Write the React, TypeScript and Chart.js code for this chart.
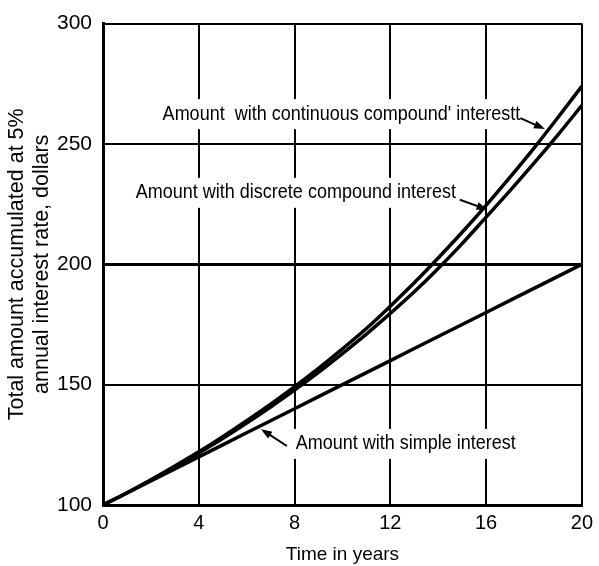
import { useEffect, useRef } from "react";
import { Chart, registerables } from "chart.js";

Chart.register(...registerables);

// ---- data ----
const years = [0, 1, 2, 3, 4, 5, 6, 7, 8, 9, 10, 11, 12, 13, 14, 15, 16, 17, 18, 19, 20];
const simpleInterest = [100, 105, 110, 115, 120, 125, 130, 135, 140, 145, 150, 155, 160, 165, 170, 175, 180, 185, 190, 195, 200];
const discreteCompound = [100, 105, 110.3, 115.8, 121.6, 127.6, 134, 140.7, 147.7, 155.1, 162.9, 171, 179.6, 188.6, 198.3, 208.6, 219.6, 230.6, 242, 253.8, 266];
const continuousCompound = [100, 105.1, 110.5, 116.2, 122.1, 128.4, 135, 141.9, 149.2, 156.8, 164.9, 173.3, 182.6, 192.3, 202.6, 213.3, 224.5, 236.2, 248.3, 261, 274];
const xTickValues = [0, 4, 8, 12, 16, 20];
const yTickValues = [100, 150, 200, 250, 300];

const xTitle = "Time in years";
const yTitleLines = ["Total amount accumulated at 5%", "annual interest rate, dollars"];

// annotation texts with anchors in data units (text left / middle, arrow tail -> head)
const labelTexts = [
  "Amount  with continuous compound' interestt",
  "Amount with discrete compound interest",
  "Amount with simple interest",
];
const labelAnchors = [
  { x: 2.49, y: 262.4, ax0: 17.43, ay0: 260.7, ax1: 18.46, ay1: 256.2 },
  { x: 1.37, y: 229.7, ax0: 14.9, ay0: 226.8, ax1: 16.06, ay1: 222.7 },
  { x: 8.05, y: 125.4, ax0: 7.68, ay0: 124.5, ax1: 6.6, ay1: 131.5 },
];

const LABEL_FONT = "20px 'Liberation Sans', Arial, sans-serif";
const LABEL_SCALE_X = 0.9;
const TICK_FONT_FAMILY = "'Liberation Sans', Arial, sans-serif";

const annotationPlugin = {
  id: "textAnnotations",
  beforeDatasetsDraw(chart: any) {
    const { ctx, scales } = chart;
    const xs = scales.x;
    const ys = scales.y;
    ctx.save();
    ctx.font = LABEL_FONT;
    labelTexts.forEach((t, i) => {
      const a = labelAnchors[i];
      const px = xs.getPixelForValue(a.x);
      const py = ys.getPixelForValue(a.y);
      const w = ctx.measureText(t).width * LABEL_SCALE_X;
      ctx.fillStyle = "#fff";
      ctx.fillRect(px - 4, py - 15, w + 8, 30);
    });
    ctx.restore();
  },
  afterDatasetsDraw(chart: any) {
    const { ctx, scales } = chart;
    const xs = scales.x;
    const ys = scales.y;
    ctx.save();
    ctx.fillStyle = "#000";
    ctx.strokeStyle = "#000";
    labelTexts.forEach((t, i) => {
      const a = labelAnchors[i];
      const px = xs.getPixelForValue(a.x);
      const py = ys.getPixelForValue(a.y);
      ctx.save();
      ctx.font = LABEL_FONT;
      ctx.textBaseline = "middle";
      ctx.textAlign = "left";
      ctx.translate(px, py);
      ctx.scale(LABEL_SCALE_X, 1);
      ctx.fillText(t, 0, 0);
      ctx.restore();
      const x0 = xs.getPixelForValue(a.ax0);
      const y0 = ys.getPixelForValue(a.ay0);
      const x1 = xs.getPixelForValue(a.ax1);
      const y1 = ys.getPixelForValue(a.ay1);
      const ang = Math.atan2(y1 - y0, x1 - x0);
      ctx.lineWidth = 2;
      ctx.beginPath();
      ctx.moveTo(x0, y0);
      ctx.lineTo(x1 - 6 * Math.cos(ang), y1 - 6 * Math.sin(ang));
      ctx.stroke();
      const hl = 11;
      const hw = 4;
      ctx.beginPath();
      ctx.moveTo(x1, y1);
      ctx.lineTo(x1 - hl * Math.cos(ang) + hw * Math.sin(ang), y1 - hl * Math.sin(ang) - hw * Math.cos(ang));
      ctx.lineTo(x1 - hl * Math.cos(ang) - hw * Math.sin(ang), y1 - hl * Math.sin(ang) + hw * Math.cos(ang));
      ctx.closePath();
      ctx.fill();
    });
    ctx.restore();
  },
};

export default function App() {
  const canvasRef = useRef<HTMLCanvasElement | null>(null);

  useEffect(() => {
    document.body.style.margin = "0";
    const canvas = canvasRef.current;
    if (!canvas) return;
    const mk = (vals: number[]) => years.map((x, i) => ({ x, y: vals[i] }));
    const lineStyle = {
      borderColor: "#000",
      borderWidth: 3.5,
      pointRadius: 0,
      cubicInterpolationMode: "monotone" as const,
      fill: false,
    };
    const chart = new Chart(canvas, {
      type: "line",
      data: {
        datasets: [
          { label: "Continuous compound", data: mk(continuousCompound), ...lineStyle },
          { label: "Discrete compound", data: mk(discreteCompound), ...lineStyle },
          { label: "Simple interest", data: mk(simpleInterest), ...lineStyle, cubicInterpolationMode: "default" as const, tension: 0 },
        ],
      },
      options: {
        animation: false,
        responsive: false,
        maintainAspectRatio: false,
        layout: { padding: { left: 0, right: 14, top: 16, bottom: 0 } },
        plugins: { legend: { display: false }, tooltip: { enabled: false } },
        scales: {
          x: {
            type: "linear",
            min: 0,
            max: 20,
            afterBuildTicks: (s: any) => {
              s.ticks = xTickValues.map((v) => ({ value: v }));
            },
            afterFit: (s: any) => {
              s.height = 61;
            },
            ticks: {
              color: "#000",
              font: { family: TICK_FONT_FAMILY, size: 20 },
              padding: 6,
              maxRotation: 0,
            },
            grid: { color: "#000", lineWidth: 2, drawTicks: false },
            border: { color: "#000", width: 3 },
            title: {
              display: true,
              text: xTitle,
              color: "#000",
              font: { family: TICK_FONT_FAMILY, size: 19 },
              padding: { top: 0, bottom: 0 },
            },
          },
          y: {
            type: "linear",
            min: 100,
            max: 300,
            afterBuildTicks: (s: any) => {
              s.ticks = yTickValues.map((v) => ({ value: v }));
            },
            afterFit: (s: any) => {
              s.width = 103;
            },
            ticks: {
              color: "#000",
              font: { family: TICK_FONT_FAMILY, size: 21 },
              padding: 11,
            },
            grid: {
              color: "#000",
              lineWidth: (c: any) => (c.tick && c.tick.value === 200 ? 3 : 2),
              drawTicks: false,
            },
            border: { color: "#000", width: 3 },
            title: {
              display: true,
              text: yTitleLines,
              color: "#000",
              font: { family: TICK_FONT_FAMILY, size: 21.5, lineHeight: 1.18 },
              padding: { top: 4, bottom: 0 },
            },
          },
        },
      },
      plugins: [annotationPlugin],
    });
    return () => chart.destroy();
  }, []);

  return (
    <div style={{ width: 599, height: 566 }}>
      <canvas ref={canvasRef} width={599} height={566} style={{ display: "block" }} />
    </div>
  );
}
